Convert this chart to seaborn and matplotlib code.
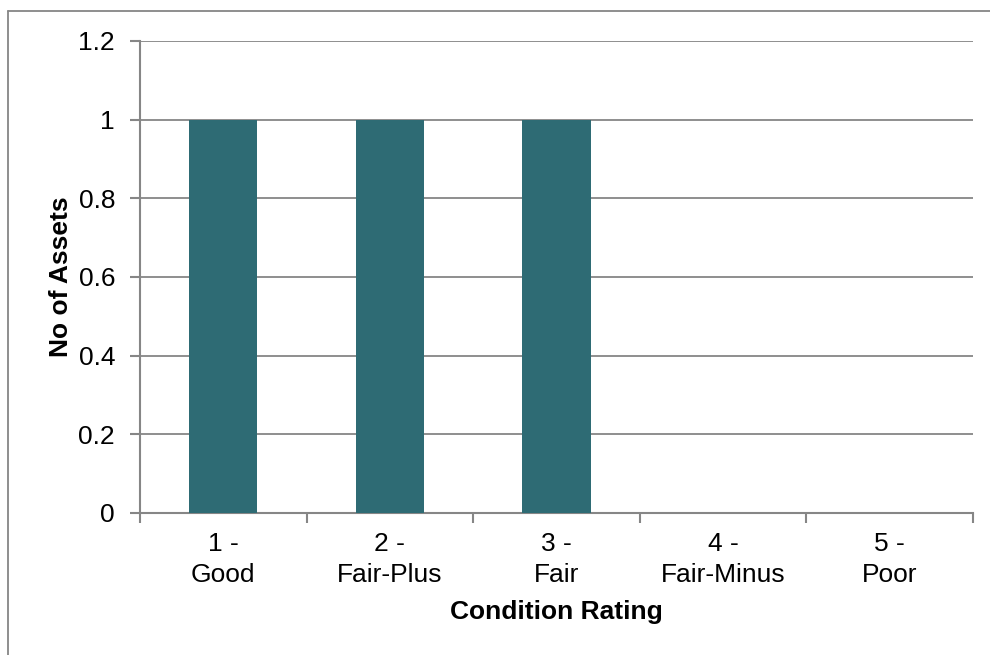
import matplotlib
matplotlib.use("Agg")
import matplotlib.pyplot as plt
import seaborn as sns
import pandas as pd
from matplotlib.lines import Line2D

categories = ["1 -\nGood", "2 -\nFair-Plus", "3 -\nFair", "4 -\nFair-Minus", "5 -\nPoor"]
values = [1, 1, 1, 0, 0]
y_ticks = [0, 0.2, 0.4, 0.6, 0.8, 1, 1.2]
y_tick_labels = ["0", "0.2", "0.4", "0.6", "0.8", "1", "1.2"]

sns.set_style("white")
plt.rcParams['font.family'] = ['Liberation Sans', 'DejaVu Sans']
plt.rcParams['text.color'] = 'black'
plt.rcParams['axes.labelcolor'] = 'black'

df = pd.DataFrame({"cat": categories, "val": values})

fig = plt.figure(figsize=(9.9, 6.55), dpi=100)
ax = fig.add_axes([140/990, 1-513/655, (973-140)/990, (513-41)/655])

gray = "#868686"
fs = 19
sns.barplot(data=df, x="cat", y="val", color="#2E6B74", width=0.41, ax=ax,
            saturation=1, edgecolor="none", zorder=3)

ax.set_ylim(0, 1.2)
ax.set_xlim(-0.5, 4.5)
ax.set_yticks(y_ticks)
ax.set_yticklabels(y_tick_labels)
ax.yaxis.grid(True, color=gray, linewidth=1.3, zorder=0)
ax.set_axisbelow(True)

for s in ["top", "right"]:
    ax.spines[s].set_visible(False)
for s in ["left", "bottom"]:
    ax.spines[s].set_color(gray)
    ax.spines[s].set_linewidth(1.5)

ax.set_xticks([0, 1, 2, 3, 4])
ax.set_xticklabels(categories, linespacing=1.32)
ax.set_xticks([-0.5, 0.5, 1.5, 2.5, 3.5, 4.5], minor=True)
ax.tick_params(axis="x", which="major", length=0, pad=14, labelsize=fs, labelcolor="black")
ax.tick_params(axis="x", which="minor", length=7, width=1.5, color=gray, direction="out", bottom=True)
ax.tick_params(axis="y", length=7, width=1.5, color=gray, direction="out", pad=11,
               labelsize=fs, left=True, labelcolor="black")

ax.set_xlabel("Condition Rating", fontsize=fs, fontweight="bold", labelpad=10, color="black")
ax.set_ylabel("No of Assets", fontsize=fs, fontweight="bold", labelpad=4, color="black")

fig.add_artist(Line2D([8/990, 1.0], [1-11/655, 1-11/655], color=gray, linewidth=1.3, transform=fig.transFigure))
fig.add_artist(Line2D([8/990, 8/990], [1-11/655, 0.0], color=gray, linewidth=1.3, transform=fig.transFigure))

fig.savefig("out.png", dpi=100)
